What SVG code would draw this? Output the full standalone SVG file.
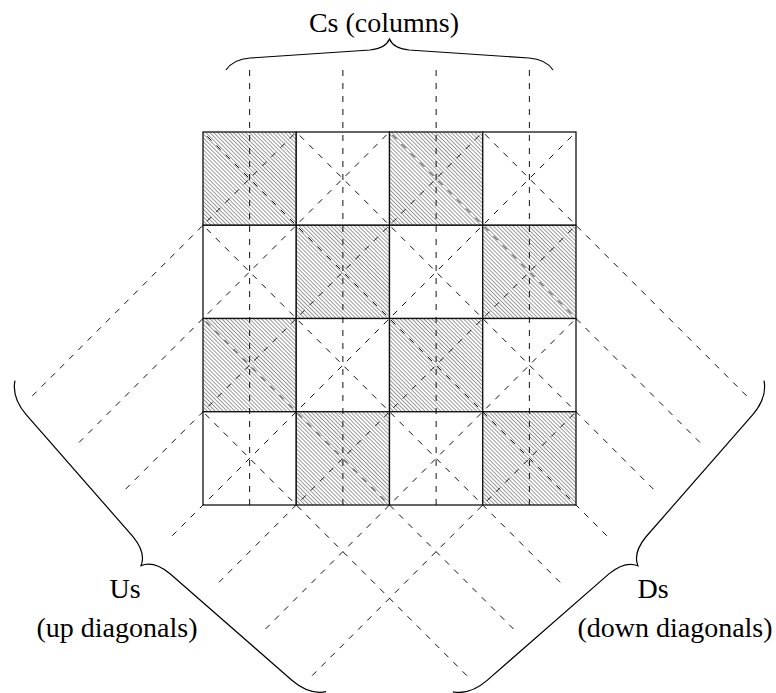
<svg xmlns="http://www.w3.org/2000/svg" width="776" height="693" viewBox="0 0 776 693">
<defs>
<pattern id="hatch" patternUnits="userSpaceOnUse" width="10" height="2.8" patternTransform="rotate(45)">
<rect width="10" height="2.8" fill="#fff"/>
<line x1="0" y1="1.4" x2="10" y2="1.4" stroke="#8c8c8c" stroke-width="0.9"/>
</pattern>
<path id="brace" d="M0,0 C4,-6 11,-11 24,-12 L144,-20 C154,-21 161,-25 163.5,-31 C166,-25 173,-21 183,-20 L303,-12 C316,-11 323,-6 327,0"/>
</defs>
<style>
.cell{stroke:#111;stroke-width:1.3}
.sh{fill:url(#hatch)}
.wh{fill:#fff}
.d{stroke:#111;stroke-width:1;stroke-dasharray:6 7;fill:none}
.br{fill:none;stroke:#000;stroke-width:1.2}
.t{font-family:'Liberation Serif','Times New Roman',serif;font-size:28px;fill:#000;text-anchor:middle}
</style>
<rect width="776" height="693" fill="#fff"/>
<g id="cells">
<g id="c00"><rect class="cell sh" x="203" y="132" width="93.25" height="93.25"/></g>
<g id="c10"><rect class="cell wh" x="296.25" y="132" width="93.25" height="93.25"/></g>
<g id="c20"><rect class="cell sh" x="389.5" y="132" width="93.25" height="93.25"/></g>
<g id="c30"><rect class="cell wh" x="482.75" y="132" width="93.25" height="93.25"/></g>
<g id="c01"><rect class="cell wh" x="203" y="225.25" width="93.25" height="93.25"/></g>
<g id="c11"><rect class="cell sh" x="296.25" y="225.25" width="93.25" height="93.25"/></g>
<g id="c21"><rect class="cell wh" x="389.5" y="225.25" width="93.25" height="93.25"/></g>
<g id="c31"><rect class="cell sh" x="482.75" y="225.25" width="93.25" height="93.25"/></g>
<g id="c02"><rect class="cell sh" x="203" y="318.5" width="93.25" height="93.25"/></g>
<g id="c12"><rect class="cell wh" x="296.25" y="318.5" width="93.25" height="93.25"/></g>
<g id="c22"><rect class="cell sh" x="389.5" y="318.5" width="93.25" height="93.25"/></g>
<g id="c32"><rect class="cell wh" x="482.75" y="318.5" width="93.25" height="93.25"/></g>
<g id="c03"><rect class="cell wh" x="203" y="411.75" width="93.25" height="93.25"/></g>
<g id="c13"><rect class="cell sh" x="296.25" y="411.75" width="93.25" height="93.25"/></g>
<g id="c23"><rect class="cell wh" x="389.5" y="411.75" width="93.25" height="93.25"/></g>
<g id="c33"><rect class="cell sh" x="482.75" y="411.75" width="93.25" height="93.25"/></g>
</g>
<g id="connectors">
<line class="d" x1="249.625" y1="70" x2="249.625" y2="505"/>
<line class="d" x1="342.875" y1="70" x2="342.875" y2="505"/>
<line class="d" x1="436.125" y1="70" x2="436.125" y2="505"/>
<line class="d" x1="529.375" y1="70" x2="529.375" y2="505"/>
<line class="d" x1="32.375" y1="395.875" x2="296.25" y2="132"/>
<line class="d" x1="79" y1="442.5" x2="389.5" y2="132"/>
<line class="d" x1="125.625" y1="489.125" x2="482.75" y2="132"/>
<line class="d" x1="172.25" y1="535.75" x2="576" y2="132"/>
<line class="d" x1="218.875" y1="582.375" x2="576" y2="225.25"/>
<line class="d" x1="265.5" y1="629" x2="576" y2="318.5"/>
<line class="d" x1="312.125" y1="675.625" x2="576" y2="411.75"/>
<line class="d" x1="746.625" y1="395.875" x2="482.75" y2="132"/>
<line class="d" x1="700" y1="442.5" x2="389.5" y2="132"/>
<line class="d" x1="653.375" y1="489.125" x2="296.25" y2="132"/>
<line class="d" x1="606.75" y1="535.75" x2="203" y2="132"/>
<line class="d" x1="560.125" y1="582.375" x2="203" y2="225.25"/>
<line class="d" x1="513.5" y1="629" x2="203" y2="318.5"/>
<line class="d" x1="466.875" y1="675.625" x2="203" y2="411.75"/>
</g>
<g id="brace-columns">
<use href="#brace" class="br" transform="translate(226,70)"/>
<text class="t" font-family="'Liberation Serif', serif" x="384" y="32">Cs (columns)</text>
</g>
<g id="brace-up">
<use href="#brace" class="br" transform="translate(326.1,691.7) rotate(225) scale(1.3456)" style="stroke-width:0.9"/>
<text class="t" font-family="'Liberation Serif', serif" x="125" y="598">Us</text>
<text class="t" font-family="'Liberation Serif', serif" x="117" y="637">(up diagonals)</text>
</g>
<g id="brace-down">
<use href="#brace" class="br" transform="translate(764,380.7) rotate(135) scale(1.3456)" style="stroke-width:0.9"/>
<text class="t" font-family="'Liberation Serif', serif" x="653" y="598">Ds</text>
<text class="t" font-family="'Liberation Serif', serif" x="675" y="637">(down diagonals)</text>
</g>
</svg>
